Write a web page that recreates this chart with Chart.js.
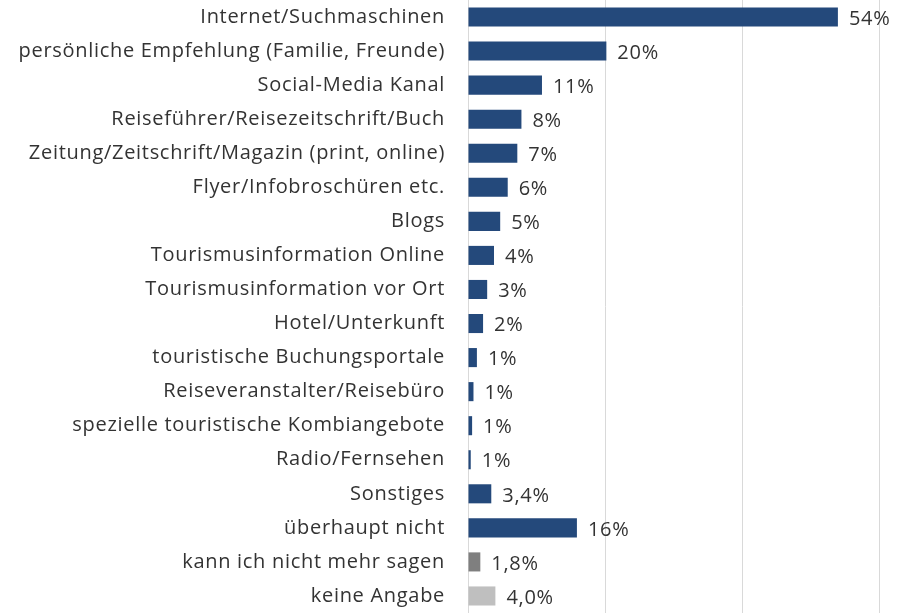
<!DOCTYPE html>
<html>
<head>
<meta charset="utf-8">
<script src="https://cdn.jsdelivr.net/npm/chart.js@4"></script>
<style>
  html, body { margin: 0; padding: 0; background: #fff; }
  #wrap { width: 898px; height: 613px; }
</style>
</head>
<body>
<div id="wrap"><canvas id="c"></canvas></div>
<script>
// Kategorien (von oben nach unten)
const categories = [
  'Internet/Suchmaschinen',
  'persönliche Empfehlung (Familie, Freunde)',
  'Social-Media Kanal',
  'Reiseführer/Reisezeitschrift/Buch',
  'Zeitung/Zeitschrift/Magazin (print, online)',
  'Flyer/Infobroschüren etc.',
  'Blogs',
  'Tourismusinformation Online',
  'Tourismusinformation vor Ort',
  'Hotel/Unterkunft',
  'touristische Buchungsportale',
  'Reiseveranstalter/Reisebüro',
  'spezielle touristische Kombiangebote',
  'Radio/Fernsehen',
  'Sonstiges',
  'überhaupt nicht',
  'kann ich nicht mehr sagen',
  'keine Angabe'
];

// Werte in Prozent
const values = [54, 20.2, 10.8, 7.8, 7.2, 5.8, 4.7, 3.8, 2.8, 2.2, 1.3, 0.8, 0.6, 0.4, 3.4, 15.9, 1.8, 4.0];

// angezeigte Beschriftungen
const valueLabels = ['54%', '20%', '11%', '8%', '7%', '6%', '5%', '4%', '3%', '2%', '1%', '1%', '1%', '1%', '3,4%', '16%', '1,8%', '4,0%'];

const barColors = [
  '#24497b', '#24497b', '#24497b', '#24497b', '#24497b', '#24497b', '#24497b', '#24497b', '#24497b',
  '#24497b', '#24497b', '#24497b', '#24497b', '#24497b', '#24497b', '#24497b', '#7f7f7f', '#bfbfbf'
];

const xTicks = [0, 20, 40, 60];

const FONT = '"Open Sans", sans-serif';
const TEXT = '#333333';

// etwas Laufweite wie im Original (Calibri-Optik)
const spacingPlugin = {
  id: 'spacing',
  beforeDraw(chart) { chart.ctx.letterSpacing = '0.7px'; },
  afterDraw(chart) { chart.ctx.letterSpacing = '0px'; }
};

// Werte-Beschriftungen rechts neben den Balken
const valueLabelPlugin = {
  id: 'valueLabels',
  afterDatasetsDraw(chart) {
    const ctx = chart.ctx;
    const meta = chart.getDatasetMeta(0);
    ctx.save();
    ctx.font = '20px ' + FONT;
    ctx.fillStyle = TEXT;
    ctx.textAlign = 'left';
    ctx.textBaseline = 'middle';
    meta.data.forEach((bar, i) => {
      ctx.fillText(valueLabels[i], bar.x + 11, bar.y + 2);
    });
    ctx.restore();
  }
};

new Chart(document.getElementById('c'), {
  type: 'bar',
  data: {
    labels: categories,
    datasets: [{
      data: values,
      backgroundColor: barColors,
      borderWidth: 0,
      categoryPercentage: 0.56,
      barPercentage: 1
    }]
  },
  options: {
    indexAxis: 'y',
    responsive: true,
    maintainAspectRatio: false,
    animation: false,
    layout: { padding: { top: 0, right: 19, bottom: 0, left: 0 } },
    plugins: {
      legend: { display: false },
      tooltip: { enabled: false }
    },
    scales: {
      x: {
        min: 0,
        max: 60,
        afterBuildTicks(scale) {
          scale.ticks = xTicks.map(v => ({ value: v }));
        },
        afterFit(scale) { scale.height = 0; },
        ticks: { display: false },
        grid: { color: '#d9d9d9', lineWidth: 1, drawTicks: false },
        border: { display: false }
      },
      y: {
        afterFit(scale) {
          scale.width = 468;
          scale.paddingTop = 0;
          scale.paddingBottom = 0;
        },
        ticks: {
          padding: 23,
          color: TEXT,
          font: { family: FONT, size: 20 },
          autoSkip: false
        },
        grid: { display: false, drawTicks: false },
        border: { display: true, color: '#d9d9d9', width: 1 }
      }
    }
  },
  plugins: [spacingPlugin, valueLabelPlugin]
});
</script>
</body>
</html>
